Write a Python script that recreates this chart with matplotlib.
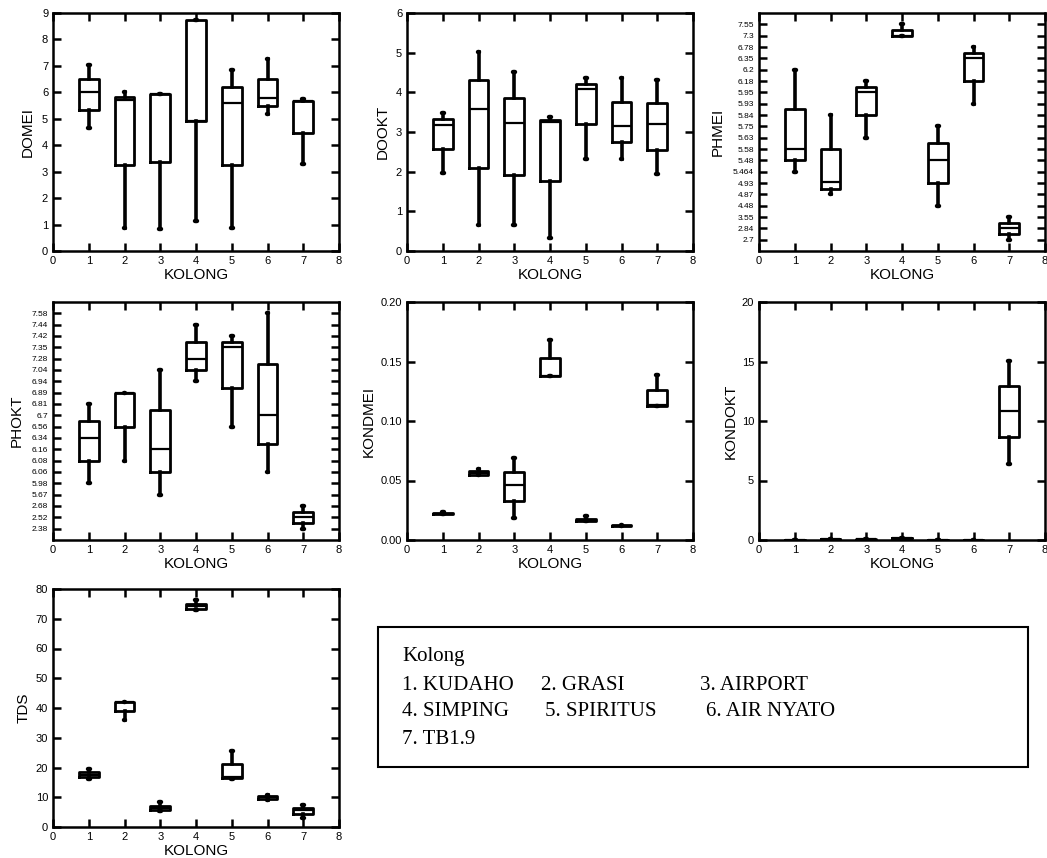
import matplotlib
matplotlib.use("Agg")
import matplotlib.pyplot as plt
from matplotlib.patches import Rectangle

plt.rcParams["font.family"] = ["Liberation Sans", "DejaVu Sans"]

kolong = [1, 2, 3, 4, 5, 6, 7]

# box stats per site: whisker low, Q1, median, Q3, whisker high
domei_lo = [4.64, 0.88, 0.85, 1.14, 0.88, 5.18, 3.29]
domei_q1 = [5.34, 3.27, 3.38, 4.93, 3.25, 5.49, 4.45]
domei_med = [6.02, 5.71, 5.94, 4.93, 5.59, 5.78, 5.69]
domei_q3 = [6.51, 5.83, 5.94, 8.75, 6.22, 6.51, 5.69]
domei_hi = [7.02, 6.02, 5.94, 8.75, 6.85, 7.26, 5.74]

dookt_lo = [1.97, 0.65, 0.65, 0.34, 2.32, 2.32, 1.93]
dookt_q1 = [2.56, 2.10, 1.92, 1.76, 3.19, 2.74, 2.54]
dookt_med = [3.17, 3.57, 3.22, 3.25, 4.09, 3.16, 3.19]
dookt_q3 = [3.33, 4.30, 3.85, 3.30, 4.21, 3.75, 3.72]
dookt_hi = [3.47, 5.01, 4.52, 3.39, 4.35, 4.35, 4.30]

# pH axes are ordinal: tick labels sit at ranks 1..20 (bottom to top)
phmei_ticks = ["2.7", "2.84", "3.55", "4.48", "4.87", "4.93", "5.464", "5.48",
               "5.58", "5.63", "5.75", "5.84", "5.93", "5.95", "6.18", "6.2",
               "6.35", "6.78", "7.3", "7.55"]
phmei_lo = [7, 5, 10, 19, 4, 13, 1]
phmei_q1 = [8, 5.5, 12, 19, 6, 15, 1.5]
phmei_med = [9, 6.1, 14, 19, 8, 17, 2]
phmei_q3 = [12.5, 9, 14.5, 19.5, 9.5, 17.5, 2.5]
phmei_hi = [16, 12, 15, 20, 11, 18, 3]

phokt_ticks = ["2.38", "2.52", "2.68", "5.67", "5.98", "6.06", "6.08", "6.16",
               "6.34", "6.56", "6.7", "6.81", "6.89", "6.94", "7.04", "7.28",
               "7.35", "7.42", "7.44", "7.58"]
phokt_lo = [5, 7, 4, 14, 10, 6, 1]
phokt_q1 = [7, 10, 6, 15, 13.45, 8.5, 1.5]
phokt_med = [9, 13, 8, 16, 17, 11, 2]
phokt_q3 = [10.5, 13, 11.5, 17.5, 17.5, 15.5, 2.5]
phokt_hi = [12, 13, 15, 19, 18, 20, 3]

kondmei_lo = [0.0216, 0.0547, 0.0185, 0.1377, 0.0157, 0.0115, 0.1122]
kondmei_q1 = [0.0216, 0.0550, 0.0325, 0.1377, 0.0160, 0.0115, 0.1130]
kondmei_med = [0.0222, 0.0564, 0.0463, 0.1377, 0.0168, 0.0121, 0.1135]
kondmei_q3 = [0.0230, 0.0578, 0.0575, 0.1532, 0.0180, 0.0126, 0.1262]
kondmei_hi = [0.0238, 0.0597, 0.0690, 0.1683, 0.0199, 0.0128, 0.1383]

kondokt_lo = [0.02, 0.05, 0.02, 0.12, 0.015, 0.011, 6.40]
kondokt_q1 = [0.02, 0.05, 0.03, 0.13, 0.016, 0.011, 8.64]
kondokt_med = [0.02, 0.06, 0.05, 0.14, 0.017, 0.012, 10.88]
kondokt_q3 = [0.03, 0.06, 0.06, 0.15, 0.018, 0.013, 12.96]
kondokt_hi = [0.03, 0.06, 0.07, 0.17, 0.020, 0.013, 15.03]

tds_lo = [16.2, 36.1, 5.5, 73.1, 16.2, 9.2, 3.0]
tds_q1 = [16.7, 38.9, 5.6, 73.3, 16.5, 9.5, 4.4]
tds_med = [17.6, 41.9, 6.3, 74.2, 16.7, 10.0, 5.6]
tds_q3 = [18.5, 41.9, 6.9, 75.0, 21.3, 10.3, 6.4]
tds_hi = [19.6, 41.9, 8.4, 76.2, 25.4, 10.6, 7.5]

legend_rows = [["1. KUDAHO", "2. GRASI", "3. AIRPORT"],
               ["4. SIMPING", "5. SPIRITUS", "6. AIR NYATO"],
               ["7. TB1.9"]]

fig = plt.figure(figsize=(10.47, 8.58), dpi=100)

W, H = 1047, 858
col_left = [53, 407, 759]
row_top = [13, 302, 589]
aw, ah = 286, 238


def make_ax(col, row):
    l = col_left[col] / W
    b = 1 - (row_top[row] + ah) / H
    return fig.add_axes([l, b, aw / W, ah / H])


def panel(ax, lo, q1, med, q3, hi, ylabel, ylim, yticks, yticklabels=None,
          ylab_x=-0.07, ysize=8):
    stats = []
    for i in range(len(kolong)):
        stats.append(dict(whislo=lo[i], q1=q1[i], med=med[i], q3=q3[i],
                          whishi=hi[i], fliers=[]))
    ax.bxp(stats, positions=kolong, widths=0.55, showfliers=False,
           boxprops=dict(color="black", linewidth=2.0),
           medianprops=dict(color="black", linewidth=1.6),
           whiskerprops=dict(color="black", linewidth=2.6),
           capprops=dict(color="black", linewidth=3.2,
                         solid_capstyle="round"),
           capwidths=0.05, manage_ticks=False)
    ax.set_xlim(0, 8)
    ax.set_ylim(*ylim)
    ax.set_xticks(range(0, 9))
    ax.set_yticks(yticks)
    if yticklabels is not None:
        ax.set_yticklabels(yticklabels)
    ax.tick_params(direction="in", length=5.5, width=1.8, top=True,
                   right=True, pad=3.5)
    ax.tick_params(axis="x", labelsize=8)
    ax.tick_params(axis="y", labelsize=ysize)
    for s in ax.spines.values():
        s.set_linewidth(1.8)
    ax.set_xlabel("KOLONG", fontsize=11)
    ax.set_ylabel(ylabel, fontsize=11)
    ax.xaxis.set_label_coords(0.5, -0.073)
    ax.yaxis.set_label_coords(ylab_x, 0.5)


ax = make_ax(0, 0)
panel(ax, domei_lo, domei_q1, domei_med, domei_q3, domei_hi, "DOMEI",
      (0, 9), range(0, 10), ylab_x=-0.063)

ax = make_ax(1, 0)
panel(ax, dookt_lo, dookt_q1, dookt_med, dookt_q3, dookt_hi, "DOOKT",
      (0, 6), range(0, 7), ylab_x=-0.059)

ax = make_ax(2, 0)
panel(ax, phmei_lo, phmei_q1, phmei_med, phmei_q3, phmei_hi, "PHMEI",
      (0, 21), range(1, 21), phmei_ticks, ylab_x=-0.119, ysize=6)

ax = make_ax(0, 1)
panel(ax, phokt_lo, phokt_q1, phokt_med, phokt_q3, phokt_hi, "PHOKT",
      (0, 21), range(1, 21), phokt_ticks, ylab_x=-0.101, ysize=6)

ax = make_ax(1, 1)
panel(ax, kondmei_lo, kondmei_q1, kondmei_med, kondmei_q3, kondmei_hi,
      "KONDMEI", (0, 0.2), [0, 0.05, 0.10, 0.15, 0.20],
      ["0.00", "0.05", "0.10", "0.15", "0.20"], ylab_x=-0.108)

ax = make_ax(2, 1)
panel(ax, kondokt_lo, kondokt_q1, kondokt_med, kondokt_q3, kondokt_hi,
      "KONDOKT", (0, 20), [0, 5, 10, 15, 20], ylab_x=-0.073)

ax = make_ax(0, 2)
panel(ax, tds_lo, tds_q1, tds_med, tds_q3, tds_hi, "TDS",
      (0, 80), range(0, 81, 10), ylab_x=-0.077)

# legend box
fig.patches.append(Rectangle((378 / W, 1 - 767 / H), 650 / W, 140 / H,
                             transform=fig.transFigure, fill=False,
                             edgecolor="black", linewidth=1.5))
serif = ["Liberation Serif", "DejaVu Serif"]
fig.text(402 / W, 1 - 657 / H, "Kolong", family=serif, fontsize=15,
         va="center")
col_x = [[402, 541, 700], [402, 545, 706], [402]]
row_y = [685, 712, 740]
for r, items in enumerate(legend_rows):
    for c, txt in enumerate(items):
        fig.text(col_x[r][c] / W, 1 - row_y[r] / H, txt, family=serif,
                 fontsize=15, va="center")

fig.savefig("out.png", dpi=100)
